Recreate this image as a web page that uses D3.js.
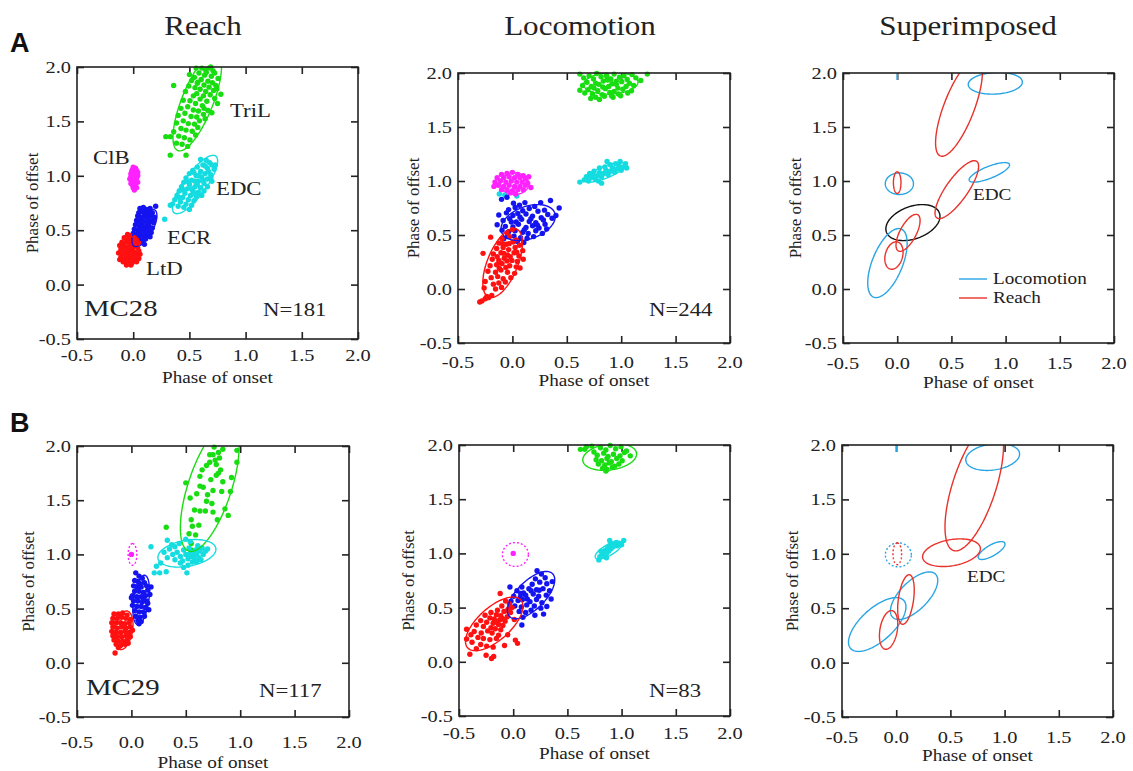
<!DOCTYPE html>
<html>
<head>
<meta charset="utf-8">
<title>Phase of onset vs phase of offset</title>
<script src="https://d3js.org/d3.v7.min.js"></script>
<style>
  body { margin: 0; background: #fff; }
  text { font-family: 'Liberation Serif', 'Times New Roman', serif; fill: #222; }
</style>
</head>
<body>
<div id="chart"></div>
<script>
/* global d3 */

const ticks = [-0.5, 0, 0.5, 1, 1.5, 2];
const tickLabels = ['-0.5', '0.0', '0.5', '1.0', '1.5', '2.0'];
const columnTitles = ['Reach', 'Locomotion', 'Superimposed'];
const rowLetters = ['A', 'B'];
const cats = ['MC28', 'MC29'];
const stepCounts = ['N=181', 'N=244', 'N=117', 'N=83'];
const muscles = ['LtD', 'ECR', 'ClB', 'EDC', 'TriL'];
const muscleColors = ['#ff1111', '#1414f0', '#ff22ff', '#14dce0', '#18dd10'];
const legendNames = ['Locomotion', 'Reach'];

// ---- MC28 reach (N=181)
const mc28ReachTriL = [[0.61,1.99],[0.645,1.975],[0.675,1.99],[0.71,1.965],[0.585,1.945],[0.635,1.925],[0.695,1.915],[0.725,1.945],[0.755,1.895],[0.605,1.885],[0.545,1.905],[0.665,1.87],[0.705,1.855],[0.735,1.83],[0.575,1.86],[0.63,1.835],[0.52,1.875],[0.675,1.815],[0.595,1.795],[0.55,1.81],[0.645,1.775],[0.715,1.785],[0.495,1.825],[0.565,1.755],[0.625,1.735],[0.685,1.745],[0.535,1.735],[0.465,1.775],[0.595,1.705],[0.655,1.685],[0.445,1.695],[0.505,1.69],[0.555,1.665],[0.725,1.71],[0.615,1.645],[0.485,1.635],[0.535,1.605],[0.58,1.595],[0.425,1.62],[0.665,1.6],[0.75,1.665],[0.46,1.575],[0.515,1.545],[0.565,1.54],[0.625,1.565],[0.4,1.555],[0.70,1.58],[0.445,1.505],[0.49,1.48],[0.545,1.475],[0.59,1.505],[0.385,1.485],[0.64,1.525],[0.425,1.435],[0.47,1.42],[0.525,1.41],[0.575,1.445],[0.36,1.405],[0.405,1.365],[0.455,1.35],[0.505,1.33],[0.555,1.375],[0.435,1.29],[0.485,1.27],[0.385,1.3],[0.33,1.36],[0.29,1.36],[0.33,1.19],[0.47,1.19],[0.36,1.83],[0.78,1.75],[0.745,1.80],[0.56,1.99],[0.69,2.0],[0.5,1.93],[0.63,1.62],[0.57,1.85],[0.65,1.95]];
const mc28ReachEDC = [[0.60,1.15],[0.65,1.14],[0.68,1.12],[0.70,1.10],[0.62,1.10],[0.57,1.08],[0.66,1.07],[0.72,1.06],[0.53,1.05],[0.60,1.04],[0.64,1.02],[0.69,1.01],[0.50,1.02],[0.56,1.00],[0.61,0.99],[0.66,0.97],[0.47,0.98],[0.52,0.96],[0.58,0.95],[0.63,0.93],[0.70,0.95],[0.45,0.94],[0.50,0.92],[0.55,0.90],[0.60,0.89],[0.66,0.90],[0.43,0.90],[0.48,0.88],[0.53,0.86],[0.58,0.85],[0.63,0.86],[0.41,0.86],[0.46,0.84],[0.51,0.82],[0.56,0.81],[0.61,0.82],[0.39,0.82],[0.44,0.80],[0.49,0.78],[0.54,0.77],[0.37,0.78],[0.42,0.76],[0.47,0.74],[0.52,0.73],[0.35,0.74],[0.40,0.72],[0.45,0.71],[0.33,0.73],[0.50,0.69],[0.28,0.60],[0.55,0.95],[0.48,0.95],[0.58,1.00],[0.52,0.88],[0.62,0.96],[0.54,1.03],[0.67,1.04],[0.45,0.87],[0.57,0.92],[0.64,1.09],[0.59,0.83],[0.41,0.80],[0.69,0.98],[0.73,1.10],[0.55,0.84]];
const mc28ReachClB = [[0.00,1.08],[0.02,1.07],[-0.01,1.05],[0.01,1.04],[0.03,1.05],[-0.02,1.02],[0.00,1.01],[0.02,1.02],[0.04,1.00],[-0.02,0.99],[0.01,0.98],[0.03,0.97],[-0.01,0.96],[0.02,0.95],[0.04,0.94],[-0.02,0.93],[0.00,0.92],[0.02,0.91],[0.03,0.89],[0.00,0.89],[0.01,0.87],[-0.03,0.97],[0.04,1.03],[0.01,1.00],[-0.01,0.94]];
const mc28ReachECR = [[0.06,0.70],[0.09,0.71],[0.12,0.69],[0.15,0.70],[0.20,0.72],[0.05,0.66],[0.08,0.67],[0.11,0.66],[0.14,0.67],[0.17,0.66],[0.04,0.63],[0.07,0.62],[0.10,0.63],[0.13,0.61],[0.16,0.63],[0.19,0.62],[0.03,0.59],[0.06,0.58],[0.09,0.59],[0.12,0.57],[0.15,0.58],[0.18,0.57],[0.02,0.55],[0.05,0.54],[0.08,0.55],[0.11,0.53],[0.14,0.54],[0.17,0.52],[0.01,0.51],[0.04,0.50],[0.07,0.51],[0.10,0.49],[0.13,0.50],[0.16,0.48],[0.00,0.47],[0.03,0.46],[0.06,0.47],[0.09,0.45],[0.12,0.46],[0.15,0.44],[-0.01,0.43],[0.02,0.42],[0.05,0.43],[0.08,0.41],[0.11,0.42],[0.00,0.39],[0.04,0.38],[0.07,0.39],[0.10,0.37],[-0.03,0.45],[0.18,0.60],[0.13,0.64],[0.09,0.52],[0.05,0.57],[0.14,0.47]];
const mc28ReachLtD = [[-0.05,0.46],[-0.02,0.45],[0.01,0.43],[-0.08,0.43],[-0.04,0.42],[0.00,0.40],[0.03,0.41],[-0.10,0.39],[-0.06,0.39],[-0.02,0.38],[0.02,0.37],[0.05,0.38],[-0.12,0.36],[-0.08,0.35],[-0.04,0.35],[0.00,0.34],[0.04,0.34],[-0.11,0.32],[-0.07,0.31],[-0.03,0.31],[0.01,0.30],[0.05,0.31],[-0.13,0.29],[-0.09,0.28],[-0.05,0.28],[-0.01,0.27],[0.03,0.27],[-0.11,0.25],[-0.07,0.24],[-0.03,0.24],[0.01,0.23],[0.05,0.24],[-0.09,0.21],[-0.05,0.21],[-0.01,0.20],[0.03,0.21],[-0.06,0.18],[-0.02,0.18],[-0.12,0.23],[0.06,0.28],[-0.06,0.33],[-0.02,0.35],[-0.09,0.37],[0.02,0.25],[-0.04,0.26]];

// ---- MC28 locomotion (N=244)
const mc28LocoTriL = [[0.62,1.99],[0.705,1.975],[0.775,1.995],[0.865,1.98],[0.935,1.99],[1.025,1.975],[1.10,1.985],[1.24,1.99],[0.655,1.955],[0.745,1.945],[0.815,1.965],[0.905,1.945],[0.985,1.96],[1.055,1.94],[1.135,1.955],[0.685,1.915],[0.765,1.905],[0.835,1.925],[0.915,1.90],[1.005,1.92],[1.075,1.905],[0.645,1.885],[0.725,1.875],[0.795,1.895],[0.885,1.875],[0.955,1.895],[1.045,1.875],[1.115,1.885],[0.695,1.845],[0.785,1.835],[0.855,1.855],[0.935,1.83],[1.015,1.85],[1.095,1.835],[0.665,1.815],[0.735,1.805],[0.825,1.80],[0.895,1.82],[0.975,1.805],[1.06,1.815],[0.72,1.765],[0.765,1.775],[0.845,1.785],[0.925,1.775],[0.995,1.79],[0.80,1.755],[0.62,1.84],[0.875,1.935],[0.955,1.925],[0.83,1.87],[1.18,1.93],[0.75,1.86],[0.87,1.96],[0.97,1.86],[0.91,1.79]];
const mc28LocoEDC = [[0.62,0.99],[0.66,1.01],[0.70,1.00],[0.68,1.04],[0.72,1.03],[0.76,1.02],[0.74,1.06],[0.78,1.05],[0.82,1.04],[0.80,1.08],[0.84,1.07],[0.88,1.06],[0.86,1.10],[0.90,1.09],[0.94,1.08],[0.92,1.12],[0.96,1.11],[1.00,1.10],[0.98,1.14],[1.02,1.13],[1.04,1.16],[0.95,1.16],[0.90,1.15],[0.85,1.13],[0.80,1.12],[0.75,1.09],[0.71,1.07],[0.87,1.18],[0.82,0.98],[0.79,1.00],[0.99,1.18],[1.05,1.12],[-0.12,0.88],[-0.07,0.87],[0.04,0.86]];
const mc28LocoClB = [[-0.10,1.06],[-0.05,1.07],[0.00,1.08],[0.05,1.06],[0.10,1.05],[-0.14,1.03],[-0.08,1.03],[-0.03,1.04],[0.02,1.03],[0.07,1.03],[0.12,1.02],[-0.16,0.99],[-0.11,1.00],[-0.06,0.99],[-0.01,1.00],[0.04,0.99],[0.09,0.99],[0.14,0.98],[-0.13,0.96],[-0.08,0.95],[-0.03,0.96],[0.02,0.95],[0.07,0.95],[0.12,0.96],[-0.10,0.92],[-0.05,0.92],[0.00,0.91],[0.05,0.92],[0.10,0.92],[-0.02,0.89],[0.03,0.88],[0.17,0.94],[-0.17,0.95],[0.15,1.04]];
const mc28LocoECR = [[-0.10,0.83],[-0.05,0.85],[0.01,0.795],[0.065,0.775],[0.115,0.80],[0.205,0.765],[0.26,0.80],[0.35,0.82],[0.43,0.75],[-0.035,0.735],[0.025,0.755],[0.095,0.725],[0.155,0.745],[0.235,0.72],[0.295,0.73],[-0.125,0.685],[-0.055,0.705],[0.005,0.68],[0.07,0.665],[0.125,0.695],[0.185,0.675],[0.265,0.66],[0.325,0.69],[-0.085,0.635],[-0.025,0.65],[0.035,0.62],[0.085,0.645],[0.155,0.625],[0.215,0.615],[0.285,0.64],[0.365,0.655],[-0.14,0.595],[-0.065,0.58],[0.005,0.575],[0.055,0.60],[0.125,0.57],[0.185,0.585],[0.245,0.565],[0.315,0.555],[-0.095,0.545],[-0.035,0.53],[0.025,0.54],[0.095,0.525],[0.145,0.515],[0.215,0.54],[0.275,0.515],[-0.045,0.485],[0.015,0.49],[0.075,0.475],[0.135,0.47],[0.195,0.485],[0.045,0.44],[0.105,0.43],[-0.08,0.465],[0.40,0.68],[0.17,0.65],[0.05,0.70],[-0.01,0.62],[0.23,0.59],[0.11,0.55],[0.30,0.60]];
const mc28LocoLtD = [[-0.05,0.52],[0.00,0.55],[-0.20,0.48],[-0.095,0.465],[-0.025,0.485],[0.035,0.455],[-0.125,0.425],[-0.055,0.415],[0.005,0.435],[0.065,0.405],[-0.145,0.375],[-0.085,0.385],[-0.035,0.365],[0.025,0.385],[0.095,0.355],[-0.27,0.33],[-0.175,0.325],[-0.105,0.335],[-0.045,0.315],[0.015,0.335],[0.06,0.305],[-0.185,0.275],[-0.125,0.265],[-0.075,0.285],[-0.005,0.265],[0.045,0.255],[0.10,0.275],[-0.205,0.215],[-0.145,0.225],[-0.095,0.235],[-0.025,0.215],[0.035,0.205],[0.07,0.195],[-0.225,0.165],[-0.155,0.155],[-0.105,0.175],[-0.045,0.155],[0.02,0.145],[-0.195,0.105],[-0.135,0.115],[-0.085,0.095],[-0.015,0.105],[-0.25,0.07],[-0.175,0.045],[-0.125,0.055],[-0.065,0.065],[-0.155,0.0],[-0.10,0.015],[-0.19,-0.06],[-0.26,0.01],[-0.22,-0.08],[-0.25,-0.09],[-0.28,-0.11],[-0.30,-0.12],[-0.235,-0.07],[-0.09,0.42],[-0.05,0.26],[-0.12,0.19],[-0.08,0.33],[-0.02,0.30],[-0.14,0.30],[-0.06,0.20],[-0.11,0.24],[0.04,0.34],[-0.03,0.42]];

// ---- MC29 reach (N=117)
const mc29ReachTriL = [[0.76,1.99],[0.80,1.94],[0.75,1.92],[0.81,1.89],[0.72,1.85],[0.78,1.83],[0.97,1.85],[0.65,1.78],[0.80,1.75],[0.50,1.66],[0.63,1.72],[0.73,1.69],[0.84,1.67],[0.92,1.71],[0.63,1.63],[0.75,1.59],[0.83,1.58],[0.91,1.58],[0.54,1.52],[0.69,1.49],[0.74,1.47],[0.58,1.41],[0.63,1.40],[0.68,1.40],[0.75,1.39],[0.79,1.32],[0.89,1.36],[0.55,1.32],[0.56,1.26],[0.53,1.19],[0.32,1.25],[0.55,1.10],[0.55,1.04],[0.97,1.96],[0.69,1.82],[0.82,1.78],[0.77,1.87],[0.60,1.56],[0.66,1.62],[0.70,1.55],[0.86,1.42],[0.62,1.27],[0.59,1.18],[0.72,1.92],[0.84,1.97],[0.78,1.73]];
const mc29ReachEDC = [[0.30,1.02],[0.35,1.05],[0.38,1.00],[0.33,0.97],[0.40,1.07],[0.42,1.02],[0.45,0.98],[0.44,1.10],[0.48,1.04],[0.50,1.00],[0.52,0.96],[0.47,0.94],[0.53,1.06],[0.55,1.02],[0.57,0.98],[0.59,1.04],[0.60,1.00],[0.62,0.97],[0.63,1.03],[0.65,1.06],[0.66,1.00],[0.68,1.03],[0.70,1.05],[0.56,0.93],[0.52,0.90],[0.58,0.95],[0.61,1.08],[0.54,1.12],[0.50,1.14],[0.45,0.92],[0.48,0.88],[0.64,0.95],[0.58,1.01],[0.55,0.98],[0.53,1.00],[0.60,0.93],[0.40,0.95],[0.37,1.09],[0.18,1.07],[0.33,1.13],[0.23,0.89],[0.26,0.83],[0.21,0.83],[0.32,0.84],[0.51,0.83],[0.27,0.92]];
const mc29ReachClB = [[0.00,1.00]];
const mc29ReachECR = [[0.04,0.83],[0.07,0.80],[0.10,0.78],[0.03,0.76],[0.06,0.75],[0.12,0.74],[0.02,0.71],[0.05,0.70],[0.09,0.70],[0.14,0.71],[0.03,0.66],[0.07,0.66],[0.11,0.65],[0.15,0.67],[0.01,0.62],[0.05,0.61],[0.09,0.61],[0.13,0.62],[0.17,0.63],[0.02,0.57],[0.06,0.57],[0.10,0.56],[0.14,0.57],[0.01,0.53],[0.05,0.52],[0.09,0.52],[0.13,0.51],[0.16,0.49],[0.03,0.48],[0.07,0.47],[0.11,0.47],[0.04,0.43],[0.08,0.42],[0.12,0.43],[0.06,0.39],[0.09,0.38],[0.07,0.36],[0.18,0.70],[0.00,0.60],[0.15,0.55],[0.08,0.73],[0.11,0.59]];
const mc29ReachLtD = [[-0.16,0.45],[-0.12,0.45],[-0.08,0.46],[-0.04,0.44],[-0.17,0.41],[-0.13,0.41],[-0.09,0.42],[-0.05,0.41],[-0.01,0.40],[-0.18,0.37],[-0.14,0.37],[-0.10,0.37],[-0.06,0.36],[-0.02,0.37],[-0.17,0.33],[-0.13,0.32],[-0.09,0.33],[-0.05,0.32],[-0.01,0.33],[-0.18,0.29],[-0.14,0.28],[-0.10,0.28],[-0.06,0.29],[-0.02,0.28],[-0.17,0.25],[-0.13,0.24],[-0.09,0.24],[-0.05,0.25],[-0.01,0.24],[-0.16,0.21],[-0.12,0.20],[-0.08,0.20],[-0.04,0.21],[-0.14,0.17],[-0.10,0.16],[-0.06,0.17],[-0.12,0.14],[-0.15,0.09],[0.01,0.30],[-0.03,0.18]];

// ---- MC29 locomotion (N=83)
const mc29LocoTriL = [[0.62,1.96],[0.675,1.985],[0.725,1.99],[0.805,1.975],[0.895,1.995],[0.995,1.985],[0.745,1.935],[0.855,1.955],[0.945,1.965],[1.045,1.945],[0.775,1.905],[0.835,1.925],[0.875,1.895],[0.925,1.915],[0.985,1.90],[1.025,1.93],[0.765,1.865],[0.815,1.855],[0.865,1.875],[0.905,1.845],[0.955,1.875],[1.005,1.855],[0.785,1.825],[0.845,1.815],[0.885,1.835],[0.935,1.805],[0.975,1.825],[0.825,1.785],[0.865,1.775],[0.915,1.795],[0.855,1.76],[0.66,1.96],[1.08,1.90]];
const mc29LocoEDC = [[0.79,0.94],[0.80,0.97],[0.82,0.99],[0.84,0.98],[0.83,1.01],[0.86,1.00],[0.85,1.03],[0.88,1.02],[0.87,1.05],[0.90,1.04],[0.89,1.07],[0.92,1.06],[0.91,1.09],[0.94,1.08],[0.96,1.07],[0.98,1.09],[1.00,1.08],[0.89,1.12],[1.02,1.12],[0.81,1.02],[0.95,1.10],[0.86,0.96]];
const mc29LocoClB = [[0.00,1.00]];
const mc29LocoECR = [[0.22,0.84],[0.26,0.81],[0.295,0.775],[0.205,0.765],[-0.03,0.69],[0.08,0.69],[0.145,0.675],[0.175,0.715],[0.245,0.735],[0.31,0.72],[0.36,0.74],[0.035,0.655],[0.095,0.635],[0.165,0.655],[0.215,0.665],[0.275,0.675],[0.335,0.655],[0.005,0.605],[0.065,0.595],[0.115,0.615],[0.185,0.625],[0.235,0.605],[0.305,0.615],[-0.02,0.56],[0.045,0.565],[0.085,0.575],[0.155,0.555],[0.215,0.575],[0.265,0.545],[0.35,0.58],[0.015,0.515],[0.075,0.505],[0.125,0.525],[0.195,0.515],[0.255,0.495],[0.31,0.51],[0.055,0.465],[0.115,0.455],[0.165,0.475],[0.28,0.44],[0.09,0.41],[0.08,0.34],[0.20,0.43],[-0.04,0.49],[0.24,0.66],[0.13,0.58],[0.07,0.63]];
const mc29LocoLtD = [[-0.12,0.63],[-0.07,0.56],[-0.035,0.535],[-0.01,0.50],[-0.105,0.515],[-0.045,0.485],[-0.145,0.475],[-0.085,0.465],[-0.025,0.455],[-0.205,0.455],[-0.155,0.435],[-0.115,0.425],[-0.055,0.415],[-0.26,0.43],[-0.215,0.405],[-0.175,0.395],[-0.125,0.385],[-0.075,0.375],[-0.30,0.38],[-0.245,0.365],[-0.185,0.355],[-0.135,0.345],[-0.095,0.335],[-0.34,0.34],[-0.275,0.325],[-0.205,0.315],[-0.165,0.305],[-0.115,0.295],[-0.36,0.28],[-0.295,0.265],[-0.235,0.285],[-0.195,0.265],[-0.135,0.245],[-0.325,0.225],[-0.275,0.215],[-0.215,0.205],[-0.155,0.215],[-0.38,0.18],[-0.30,0.16],[-0.245,0.145],[-0.185,0.135],[-0.34,0.12],[-0.43,0.30],[-0.43,0.21],[-0.40,0.07],[-0.25,0.06],[-0.20,0.03],[-0.18,0.05],[0.02,0.20],[0.04,0.17],[-0.05,0.25],[-0.08,0.15],[0.01,0.39],[-0.39,0.25],[-0.10,0.40],[-0.16,0.37],[-0.06,0.47]];

// ellipses: [muscle index, cx, cy, semi-major, semi-minor, angle deg, dashed]
const mc28ReachEllipses = [[4,0.57,1.68,0.48,0.14,69,0],[3,0.55,0.92,0.32,0.10,55,0],[2,0.00,0.985,0.10,0.035,90,0],[1,0.10,0.52,0.19,0.075,62,0],[0,-0.03,0.31,0.13,0.08,75,0]];
const mc28LocoEllipses = [[4,0.905,1.905,0.25,0.10,3,0],[3,0.85,1.08,0.20,0.055,22,0],[2,0.02,0.975,0.13,0.10,0,0],[1,0.145,0.615,0.26,0.15,20,0],[0,-0.09,0.24,0.34,0.14,68,0]];
const mc29ReachEllipses = [[4,0.72,1.62,0.62,0.20,72,0],[3,0.51,1.01,0.27,0.12,10,0],[2,0.01,1.00,0.10,0.04,90,1],[1,0.09,0.58,0.23,0.07,82,0],[0,-0.07,0.30,0.18,0.08,80,0]];
const mc29LocoEllipses = [[4,0.89,1.89,0.25,0.12,8,0],[3,0.88,1.03,0.14,0.05,30,0],[2,0.02,0.99,0.12,0.11,0,1],[1,0.165,0.615,0.28,0.13,45,0],[0,-0.175,0.35,0.33,0.15,42,0]];

const W = 1133, H = 771;
const svg = d3.select('#chart').append('svg').attr('width', W).attr('height', H);

const panels = [
  { f: [77, 358, 67, 339], kind: 'reach', pts: [mc28ReachTriL, mc28ReachEDC, mc28ReachClB, mc28ReachECR, mc28ReachLtD], ell: mc28ReachEllipses, tickDy: 22, labDy: 44, yLabDx: -45 },
  { f: [458, 730, 73, 343], kind: 'loco', pts: [mc28LocoTriL, mc28LocoEDC, mc28LocoClB, mc28LocoECR, mc28LocoLtD], ell: mc28LocoEllipses, tickDy: 25, labDy: 43, yLabDx: -45 },
  { f: [843, 1114, 73, 343], kind: 'super', reach: mc28ReachEllipses, loco: mc28LocoEllipses, tickDy: 26, labDy: 45, yLabDx: -48 },
  { f: [77, 349, 446, 717], kind: 'reach', pts: [mc29ReachTriL, mc29ReachEDC, mc29ReachClB, mc29ReachECR, mc29ReachLtD], ell: mc29ReachEllipses, tickDy: 31, labDy: 51, yLabDx: -49 },
  { f: [459, 730, 445, 716], kind: 'loco', pts: [mc29LocoTriL, mc29LocoEDC, mc29LocoClB, mc29LocoECR, mc29LocoLtD], ell: mc29LocoEllipses, tickDy: 23, labDy: 43, yLabDx: -51 },
  { f: [842, 1113, 445, 717], kind: 'super', reach: mc29ReachEllipses, loco: mc29LocoEllipses, tickDy: 26, labDy: 44, yLabDx: -50 }
];
const ptMuscle = [4, 3, 2, 1, 0];
const locoBlue = '#2aa5e4';
const reachRed = '#e8322b';

// horizontal text in the figure is slightly stretched
function txt(g, x, y, s, size, anchor, sx = 1.2) {
  return g.append('text')
    .attr('transform', `translate(${x},${y}) scale(${sx},1)`)
    .attr('text-anchor', anchor)
    .style('font-size', size + 'px')
    .text(s);
}

function ellipsePath(e, x, y) {
  const [, cx, cy, a, b, deg] = e;
  const th = deg * Math.PI / 180;
  const pts = d3.range(0, 360, 3).map(d => {
    const t = d * Math.PI / 180;
    return [x(cx + a * Math.cos(t) * Math.cos(th) - b * Math.sin(t) * Math.sin(th)),
            y(cy + a * Math.cos(t) * Math.sin(th) + b * Math.sin(t) * Math.cos(th))];
  });
  return d3.line().curve(d3.curveLinearClosed)(pts);
}

panels.forEach((p, i) => {
  const [x0, x1, y0, y1] = p.f;
  const x = d3.scaleLinear().domain([-0.5, 2]).range([x0, x1]);
  const y = d3.scaleLinear().domain([-0.5, 2]).range([y1, y0]);
  const g = svg.append('g');

  const clipId = 'clip' + i;
  g.append('clipPath').attr('id', clipId)
    .append('rect').attr('x', x0).attr('y', y0).attr('width', x1 - x0).attr('height', y1 - y0);

  // inward ticks on four sides
  const tk = 7;
  g.append('g').attr('transform', `translate(0,${y1})`)
    .call(d3.axisBottom(x).tickValues(ticks).tickSize(-tk).tickSizeOuter(0).tickFormat(''));
  g.append('g').attr('transform', `translate(0,${y0})`)
    .call(d3.axisTop(x).tickValues(ticks).tickSize(-tk).tickSizeOuter(0).tickFormat(''));
  g.append('g').attr('transform', `translate(${x0},0)`)
    .call(d3.axisLeft(y).tickValues(ticks).tickSize(-tk).tickSizeOuter(0).tickFormat(''));
  g.append('g').attr('transform', `translate(${x1},0)`)
    .call(d3.axisRight(y).tickValues(ticks).tickSize(-tk).tickSizeOuter(0).tickFormat(''));
  g.selectAll('.domain').remove();
  g.selectAll('.tick line').attr('stroke', '#222').attr('stroke-width', 1.6);

  const plot = g.append('g');
  const ells = g.append('g').attr('clip-path', `url(#${clipId})`).attr('fill', 'none').attr('stroke-width', 1.4);

  if (p.kind !== 'super') {
    p.pts.forEach((arr, k) => {
      plot.selectAll(null).data(arr).enter().append('circle')
        .attr('cx', d => x(d[0])).attr('cy', d => y(d[1])).attr('r', 2.7)
        .attr('fill', muscleColors[ptMuscle[k]]);
    });
    p.ell.forEach(e => {
      ells.append('path').attr('d', ellipsePath(e, x, y))
        .attr('stroke', muscleColors[e[0]])
        .attr('stroke-dasharray', e[6] ? '2,2' : null);
    });
  } else {
    p.loco.forEach(e => {
      ells.append('path').attr('d', ellipsePath(e, x, y))
        .attr('stroke', (e[0] === 1 && i === 2) ? '#111' : locoBlue)
        .attr('stroke-dasharray', e[6] ? '2,2' : null);
    });
    p.reach.forEach(e => {
      ells.append('path').attr('d', ellipsePath(e, x, y))
        .attr('stroke', reachRed)
        .attr('stroke-dasharray', e[6] ? '2,2' : null);
    });
    // blue mark at the top tick of 0.0
    g.append('line').attr('x1', x(0)).attr('x2', x(0)).attr('y1', y0).attr('y2', y0 + tk)
      .attr('stroke', locoBlue).attr('stroke-width', 1.6);
  }

  // frame
  g.append('rect').attr('x', x0).attr('y', y0).attr('width', x1 - x0).attr('height', y1 - y0)
    .attr('fill', 'none').attr('stroke', '#222').attr('stroke-width', 1.6);

  // tick labels
  ticks.forEach((t, k) => {
    txt(g, x(t), y1 + p.tickDy, tickLabels[k], 17, 'middle');
    txt(g, x0 - 6, y(t) + 6, tickLabels[k], 17, 'end');
  });
  txt(g, (x0 + x1) / 2, y1 + p.labDy, 'Phase of onset', 16, 'middle');
  g.append('text')
    .attr('transform', `translate(${x0 + p.yLabDx},${(y0 + y1) / 2}) rotate(-90)`)
    .attr('text-anchor', 'middle').attr('dy', '0.35em')
    .style('font-size', '17px').text('Phase of offset');
});

// column titles and row letters
[203, 580, 968].forEach((cx, k) => txt(svg, cx, 35, columnTitles[k], 27, 'middle', 1.15));
[52, 432].forEach((yy, k) => svg.append('text').attr('x', 10).attr('y', yy)
  .style('font-family', "'Liberation Sans', Arial, sans-serif").style('font-weight', 'bold')
  .style('font-size', '27px').style('fill', '#111').text(rowLetters[k]));

// monkey ids and step counts
txt(svg, 84, 316, cats[0], 24, 'start');
txt(svg, 86, 695, cats[1], 24, 'start');
[[263, 316], [649, 316], [259, 697], [649, 697]].forEach((pos, k) => txt(svg, pos[0], pos[1], stepCounts[k], 19, 'start'));

// muscle names in the first reach panel
[[230, 117, 4], [93, 164, 2], [216, 195, 3], [167, 244, 1], [146, 275, 0]]
  .forEach(([lx, ly, m]) => txt(svg, lx, ly, muscles[m], 19, 'start'));

// EDC tags on superimposed panels
txt(svg, 973, 200, muscles[3], 16, 'start');
txt(svg, 967, 582, muscles[3], 16, 'start');

// legend
[locoBlue, reachRed].forEach((c, k) => {
  const ly = 279 + k * 19;
  svg.append('line').attr('x1', 959).attr('x2', 987).attr('y1', ly).attr('y2', ly)
    .attr('stroke', c).attr('stroke-width', 1.4);
  txt(svg, 993, ly + 5, legendNames[k], 16, 'start');
});
</script>
</body>
</html>
